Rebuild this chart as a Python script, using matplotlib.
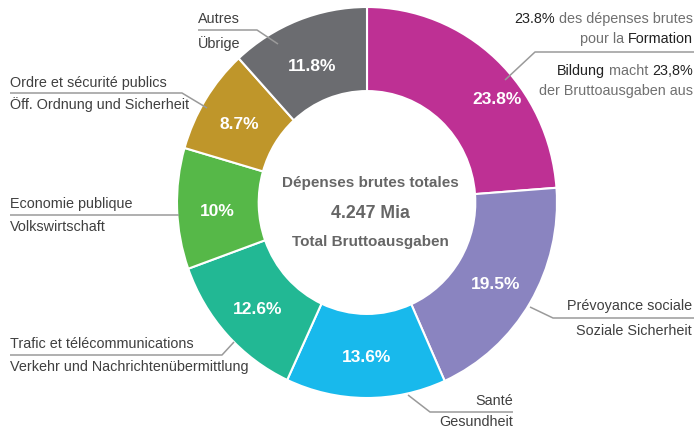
import math
import matplotlib
matplotlib.use("Agg")
import matplotlib.pyplot as plt

FONT = "Liberation Sans"

# ---- data ----
categories = ["Formation", "Prévoyance sociale", "Santé", "Trafic et télécommunications",
              "Economie publique", "Ordre et sécurité publics", "Autres"]
shares = [23.8, 19.5, 13.6, 12.6, 10.0, 8.7, 11.8]
pct_labels = ["23.8%", "19.5%", "13.6%", "12.6%", "10%", "8.7%", "11.8%"]
colors = ["#BE3094", "#8A84C0", "#18B9EC", "#22B894", "#56B848", "#BF962A", "#6B6C70"]
center_lines = ["Dépenses brutes totales", "4.247 Mia", "Total Bruttoausgaben"]

W, H = 697, 428
fig = plt.figure(figsize=(W / 100, H / 100), dpi=100)

# pie axes (slightly taller than wide, like the reference)
cx, cy, rx, ry = 367, 202.5, 190, 195.5
ax = fig.add_axes([(cx - rx) / W, (H - cy - ry) / H, 2 * rx / W, 2 * ry / H])
wedges, _ = ax.pie(shares, colors=colors, startangle=90, counterclock=False, radius=1,
                   wedgeprops=dict(width=0.43, edgecolor="white", linewidth=1.5))
ax.set_xlim(-1, 1)
ax.set_ylim(-1, 1)
ax.set_aspect("auto")
ax.axis("off")

# overlay in pixel coordinates
ov = fig.add_axes([0, 0, 1, 1], facecolor="none")
ov.set_xlim(0, W)
ov.set_ylim(H, 0)
ov.axis("off")

# percentage labels (small placement nudges in pixels)
nudges = [(28, 9), (0, 2), (1, 0), (1, 2), (0, 3), (0, 3), (0, 7)]
cum = 0
for s, lab, (dx, dy) in zip(shares, pct_labels, nudges):
    mid = (cum + s / 2) / 100 * 2 * math.pi
    cum += s
    x = cx + rx * 0.79 * math.sin(mid) + dx
    y = cy + 1 - ry * 0.79 * math.cos(mid) + dy
    ov.text(x, y, lab, color="white", fontsize=12.5, fontweight="bold", family=FONT,
            ha="center", va="center")

# center text
ccol = "#666666"
ov.text(cx + 3, 183, center_lines[0], color=ccol, fontsize=11, fontweight="bold", family=FONT,
        ha="center", va="center")
ov.text(cx + 3, 213, center_lines[1], color=ccol, fontsize=12.8, fontweight="bold", family=FONT,
        ha="center", va="center")
ov.text(cx + 3, 242, center_lines[2], color=ccol, fontsize=11, fontweight="bold", family=FONT,
        ha="center", va="center")

LC = "#9a9a9a"
TC = "#404040"
GC = "#707070"
DC = "#222222"
FS = 10.4


def leader(pts):
    xs, ys = zip(*pts)
    ov.plot(xs, ys, color=LC, lw=1.1, solid_capstyle="butt")


def label_left(x, y_top, y_bot, top, bot):
    ov.text(x, y_top, top, color=TC, fontsize=FS, family=FONT, ha="left", va="center")
    ov.text(x, y_bot, bot, color=TC, fontsize=FS, family=FONT, ha="left", va="center")


def label_right(x, y_top, y_bot, top, bot):
    ov.text(x, y_top, top, color=TC, fontsize=FS, family=FONT, ha="right", va="center")
    ov.text(x, y_bot, bot, color=TC, fontsize=FS, family=FONT, ha="right", va="center")


renderer = fig.canvas.get_renderer()


def text_width(s):
    # width of string incl. spaces: measure with a visible sentinel on both sides
    t = ov.text(0, 0, "|" + s + "|", fontsize=FS, family=FONT)
    t2 = ov.text(0, 0, "||", fontsize=FS, family=FONT)
    w = t.get_window_extent(renderer).width - t2.get_window_extent(renderer).width
    t.remove()
    t2.remove()
    return w


def rich_right(x, y, parts):
    full = "".join(p for p, _ in parts)
    x0 = x - text_width(full)
    prefix = ""
    for txt, col in parts:
        ov.text(x0 + text_width(prefix), y, txt, color=col, fontsize=FS, family=FONT,
                ha="left", va="center")
        prefix += txt


# Autres
label_left(198, 18.5, 44, "Autres", "Übrige")
leader([(198, 30), (257, 30), (278, 44)])
# Ordre
label_left(10, 83, 105, "Ordre et sécurité publics", "Öff. Ordnung und Sicherheit")
leader([(10, 93), (182, 93), (207, 108)])
# Economie
label_left(10, 204, 227, "Economie publique", "Volkswirtschaft")
leader([(10, 215), (179, 215)])
# Trafic
label_left(10, 344, 367, "Trafic et télécommunications", "Verkehr und Nachrichtenübermittlung")
leader([(10, 355), (222, 355), (234, 342)])
# Santé
label_right(513, 401, 422, "Santé", "Gesundheit")
leader([(513, 412), (430, 412), (408, 395)])
# Prévoyance
label_right(692, 306, 331, "Prévoyance sociale", "Soziale Sicherheit")
leader([(694, 318), (553, 318), (530, 307)])
# Formation
rich_right(693, 19, [("23.8%", DC), (" des dépenses brutes", GC)])
rich_right(693, 39, [("pour la ", GC), ("Formation", DC)])
leader([(694, 52), (535, 52), (505, 80)])
rich_right(693, 71, [("Bildung", DC), (" macht ", GC), ("23,8%", DC)])
rich_right(693, 91, [("der Bruttoausgaben aus", GC)])

fig.savefig("out.png", dpi=100)
